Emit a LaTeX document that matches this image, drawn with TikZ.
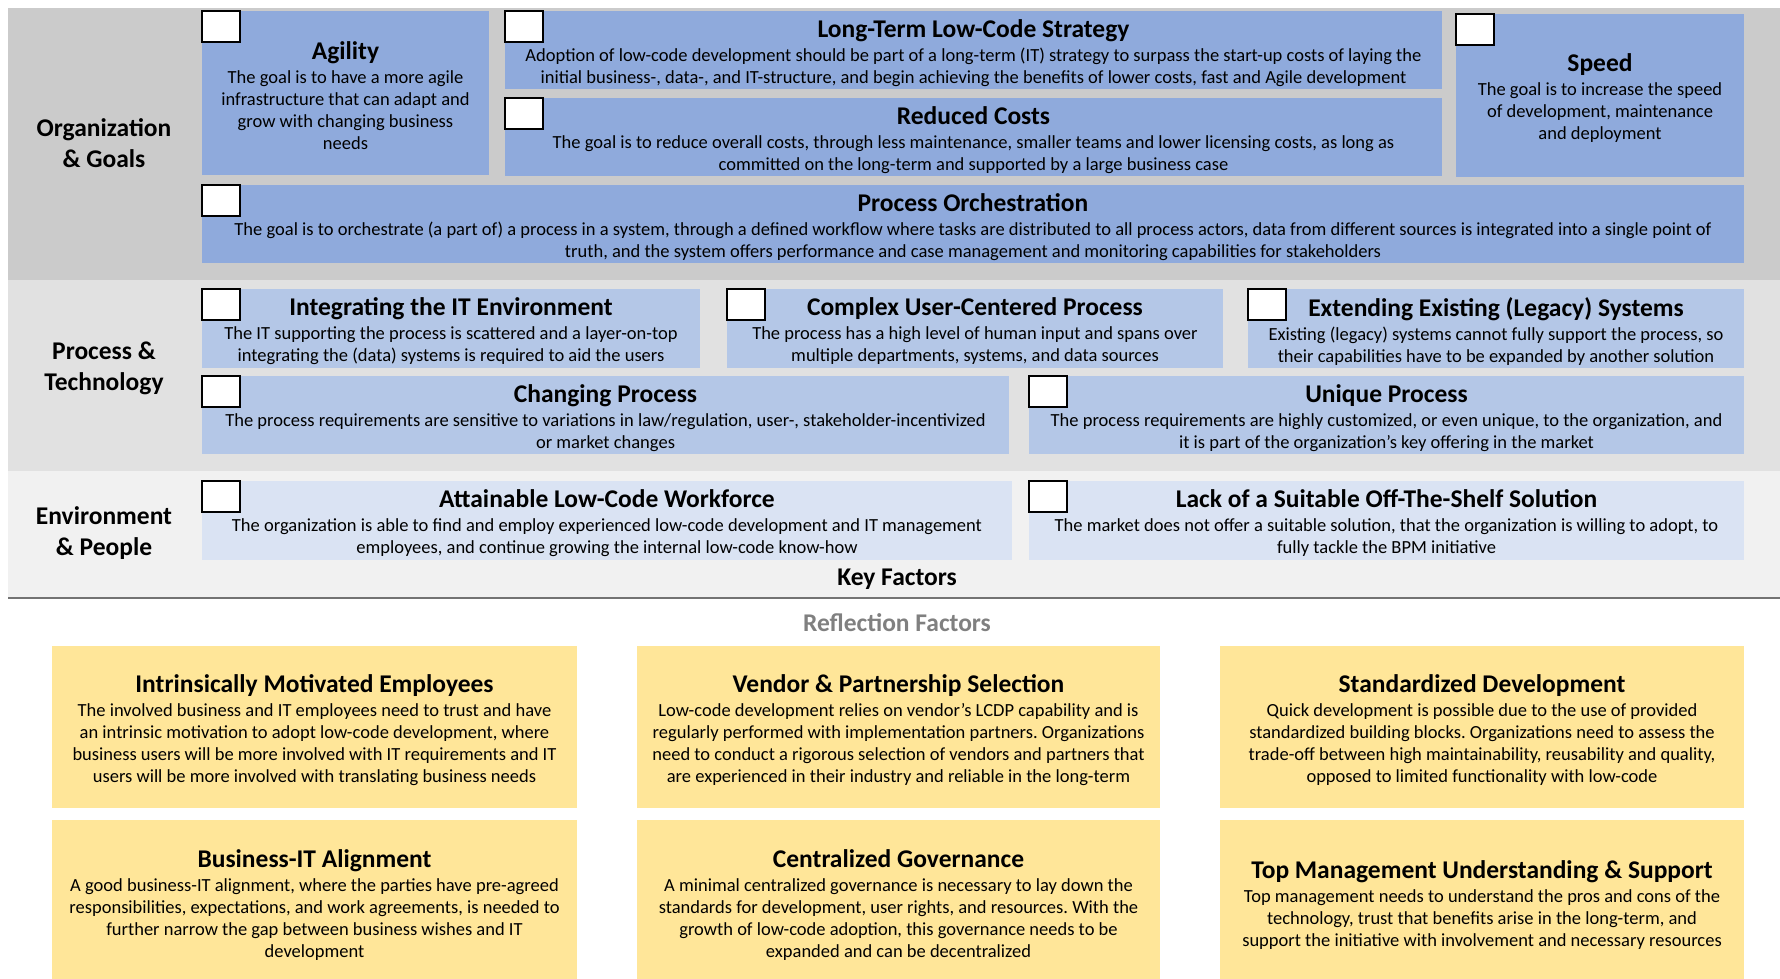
\documentclass[tikz,border=0pt]{standalone}
\usepackage{fontspec}
\setmainfont{Carlito}
\frenchspacing

\definecolor{orgband}{HTML}{CBCBCB}
\definecolor{procband}{HTML}{E1E1E1}
\definecolor{envband}{HTML}{F1F1F1}
\definecolor{orgblue}{HTML}{8FAADC}
\definecolor{procblue}{HTML}{B4C7E7}
\definecolor{envblue}{HTML}{DAE3F3}
\definecolor{reflyellow}{HTML}{FFE699}
\definecolor{reflgrey}{HTML}{808080}

\newcommand\bodyfont{\fontsize{18.5}{22}\selectfont}
\newcommand\ttl[1]{{\fontsize{25.5}{28}\selectfont\bfseries #1}\\[2pt]}

% box with a tick box in its top-left corner: name, style, x1, y1, x2, y2, text
\newcommand\factorbox[7]{%
  \node[#2, minimum width={#5-#3}, minimum height={#6-#4}] (#1) at ({(#3+#5)/2},{(#4+#6)/2}) {};
  \node[tickbox] (#1-c) at (#1.north west) {};
  \node[boxtext] (#1-t) at ([yshift=-3pt]#1.center) {#7};
}
% reflection factor box (no tick box)
\newcommand\reflbox[6]{%
  \node[reflect, minimum width={#4-#2}, minimum height={#5-#3}] (#1) at ({(#2+#4)/2},{(#3+#5)/2}) {};
  \node[boxtext] (#1-t) at ([yshift=-3pt]#1.center) {#6};
}

\tikzset{
  basebox/.style={draw=none, inner sep=0pt, outer sep=0pt},
  orgbox/.style={basebox, fill=orgblue},
  procbox/.style={basebox, fill=procblue},
  envbox/.style={basebox, fill=envblue},
  reflect/.style={basebox, fill=reflyellow},
  tickbox/.style={draw=black, line width=1.8pt, fill=white, anchor=north west,
    minimum width=38pt, minimum height=31pt, inner sep=0pt, outer sep=0pt},
  boxtext/.style={align=center, inner sep=0pt, font=\bodyfont},
  rowlabel/.style={align=center, inner sep=0pt, font=\fontsize{25.5}{31}\selectfont\bfseries},
  caption/.style={inner sep=0pt, font=\fontsize{25.5}{28}\selectfont\bfseries},
  sepline/.style={draw=black!55, line width=2pt},
}

\begin{document}
\begin{tikzpicture}[x=1pt,y=-1pt]
\useasboundingbox (0,0) rectangle (1780,979);
\fill[white] (0,0) rectangle (1780,979);

% category bands
\fill[orgband] (8,8) rectangle (1780,280);
\fill[procband] (8,280) rectangle (1780,471);
\fill[envband] (8,471) rectangle (1780,598);
\draw[sepline] (8,598) -- (1780,598);

% row labels
\node[rowlabel] (lorg) at (104,143) {Organization\\\& Goals};
\node[rowlabel] (lproc) at (104,368) {Process \&\\Technology};
\node[rowlabel] (lenv) at (104,533) {Environment\\\& People};

% Organization & Goals
\factorbox{agility}{orgbox}{202}{11}{489}{175}{\ttl{Agility}The goal is to have a more agile\\infrastructure that can adapt and\\grow with changing business\\needs}
\factorbox{strategy}{orgbox}{505}{11}{1442}{89}{\ttl{Long-Term Low-Code Strategy}Adoption of low-code development should be part of a long-term (IT) strategy to surpass the start-up costs of laying the\\initial business-, data-, and IT-structure, and begin achieving the benefits of lower costs, fast and Agile development}
\factorbox{costs}{orgbox}{505}{98}{1442}{176}{\ttl{Reduced Costs}The goal is to reduce overall costs, through less maintenance, smaller teams and lower licensing costs, as long as\\committed on the long-term and supported by a large business case}
\factorbox{speed}{orgbox}{1456}{14}{1744}{177}{\ttl{Speed}The goal is to increase the speed\\of development, maintenance\\and deployment}
\factorbox{orch}{orgbox}{202}{185}{1744}{263}{\ttl{Process Orchestration}The goal is to orchestrate (a part of) a process in a system, through a defined workflow where tasks are distributed to all process actors, data from different sources is integrated into a single point of\\truth, and the system offers performance and case management and monitoring capabilities for stakeholders}

% Process & Technology
\factorbox{integ}{procbox}{202}{289}{700}{368}{\ttl{Integrating the IT Environment}The IT supporting the process is scattered and a layer-on-top\\integrating the (data) systems is required to aid the users}
\factorbox{complex}{procbox}{727}{289}{1223}{368}{\ttl{Complex User-Centered Process}The process has a high level of human input and spans over\\multiple departments, systems, and data sources}
\factorbox{legacy}{procbox}{1248}{289}{1744}{368}{\ttl{Extending Existing (Legacy) Systems}Existing (legacy) systems cannot fully support the process, so\\their capabilities have to be expanded by another solution}
\factorbox{changing}{procbox}{202}{376}{1009}{454}{\ttl{Changing Process}The process requirements are sensitive to variations in law/regulation, user-, stakeholder-incentivized\\or market changes}
\factorbox{unique}{procbox}{1029}{376}{1744}{454}{\ttl{Unique Process}The process requirements are highly customized, or even unique, to the organization, and\\it is part of the organization’s key offering in the market}

% Environment & People
\factorbox{workforce}{envbox}{202}{481}{1012}{560}{\ttl{Attainable Low-Code Workforce}The organization is able to find and employ experienced low-code development and IT management\\employees, and continue growing the internal low-code know-how}
\factorbox{offshelf}{envbox}{1029}{481}{1744}{560}{\ttl{Lack of a Suitable Off-The-Shelf Solution}The market does not offer a suitable solution, that the organization is willing to adopt, to\\fully tackle the BPM initiative}

\node[caption] (keyf) at (897,579) {Key Factors};
\node[caption, text=reflgrey] (reflf) at (897,623) {Reflection Factors};

% Reflection factors
\reflbox{motiv}{52}{646}{577}{808}{\ttl{Intrinsically Motivated Employees}The involved business and IT employees need to trust and have\\an intrinsic motivation to adopt low-code development, where\\business users will be more involved with IT requirements and IT\\users will be more involved with translating business needs}
\reflbox{vendor}{637}{646}{1160}{808}{\ttl{Vendor \& Partnership Selection}Low-code development relies on vendor’s LCDP capability and is\\regularly performed with implementation partners. Organizations\\need to conduct a rigorous selection of vendors and partners that\\are experienced in their industry and reliable in the long-term}
\reflbox{stddev}{1220}{646}{1744}{808}{\ttl{Standardized Development}Quick development is possible due to the use of provided\\standardized building blocks. Organizations need to assess the\\trade-off between high maintainability, reusability and quality,\\opposed to limited functionality with low-code}
\reflbox{align}{52}{820}{577}{984}{\ttl{Business-IT Alignment}A good business-IT alignment, where the parties have pre-agreed\\responsibilities, expectations, and work agreements, is needed to\\further narrow the gap between business wishes and IT\\development}
\reflbox{govern}{637}{820}{1160}{984}{\ttl{Centralized Governance}A minimal centralized governance is necessary to lay down the\\standards for development, user rights, and resources. With the\\growth of low-code adoption, this governance needs to be\\expanded and can be decentralized}
\reflbox{topmgmt}{1220}{820}{1744}{984}{\ttl{Top Management Understanding \& Support}Top management needs to understand the pros and cons of the\\technology, trust that benefits arise in the long-term, and\\support the initiative with involvement and necessary resources}
\end{tikzpicture}
\end{document}
